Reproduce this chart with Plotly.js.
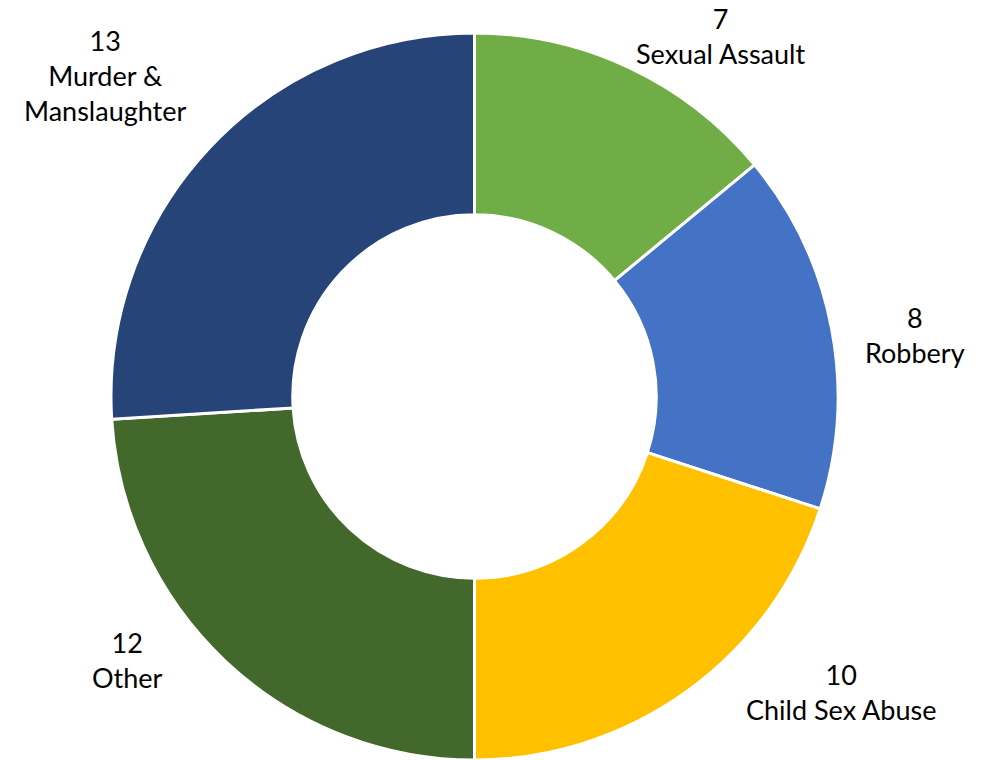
<!DOCTYPE html>
<html>
<head>
<meta charset="utf-8">
<script src="https://cdn.plot.ly/plotly-3.0.1.min.js"></script>
<style>
  html, body { margin: 0; padding: 0; background: #fff; }
  #plot { width: 994px; height: 760px; }
</style>
</head>
<body>
<div id="plot"></div>
<script>
var crimes = ["Sexual Assault", "Robbery", "Child Sex Abuse", "Other", "Murder &<br>Manslaughter"];
var counts = [7, 8, 10, 12, 13];
var colors = ["#70AD47", "#4472C4", "#FFC000", "#43682B", "#264478"];

// label centres in pixels (Excel "best fit" placement)
var labelPos = [[720, 36], [915, 335], [841, 692], [127, 660], [105, 75]];

var W = 994, H = 760;

var trace1 = {
    type: "pie",
    labels: crimes,
    values: counts,
    hole: 0.5,
    sort: false,
    direction: "clockwise",
    rotation: 0,
    textinfo: "none",
    marker: {colors: colors, line: {color: "#ffffff", width: 3}},
    domain: {x: [110.5 / W, 838.5 / W], y: [0, 727 / H]}
};
var data = [trace1];

var notes = [];
for (var i = 0; i < crimes.length; i++) {
    notes.push({
        text: counts[i] + "<br>" + crimes[i],
        xref: "paper", yref: "paper",
        x: labelPos[i][0] / W,
        y: 1 - labelPos[i][1] / H,
        xanchor: "center", yanchor: "middle",
        showarrow: false,
        font: {family: "Lato, 'Open Sans', sans-serif", size: 27, color: "#000"}
    });
}

var layOut = {
    width: W,
    height: H,
    margin: {l: 0, r: 0, t: 0, b: 0},
    showlegend: false,
    paper_bgcolor: "#fff",
    annotations: notes
};
Plotly.newPlot("plot", data, layOut, {displayModeBar: false});
</script>
</body>
</html>
